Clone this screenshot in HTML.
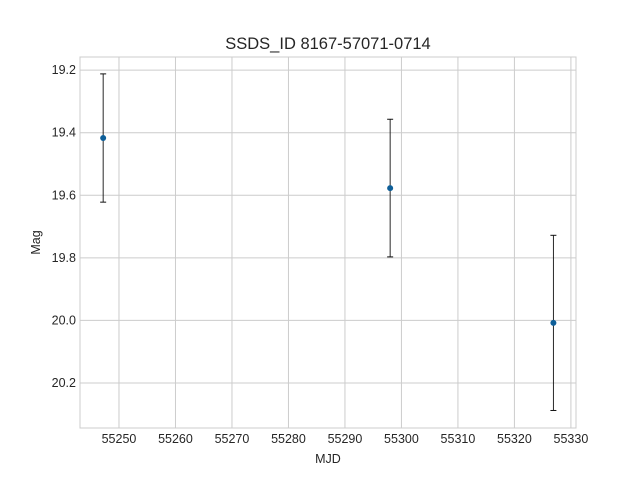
<!DOCTYPE html>
<html><head><meta charset="utf-8"><style>
body{margin:0;background:#fff;font-family:"Liberation Sans","DejaVu Sans",sans-serif;}
svg text{font-family:"Liberation Sans","DejaVu Sans",sans-serif;fill:#262626;}
</style></head><body>
<svg id="chart" width="640" height="480"></svg>
<script>
const mjd=[55247.2,55298.0,55326.9];
const mag=[19.417,19.577,20.008];
const magErr=[0.205,0.22,0.28];
const xTicks=[55250,55260,55270,55280,55290,55300,55310,55320,55330];
const yTicks=[19.2,19.4,19.6,19.8,20.0,20.2];
const L=80,R=576,T=57,B=428;
const xmin=55243.1,xmax=55330.9,ymin=19.158,ymax=20.344;
const xs=v=>L+(v-xmin)/(xmax-xmin)*(R-L);
const ys=v=>T+(v-ymin)/(ymax-ymin)*(B-T);
const svg=document.getElementById('chart');
const NS='http://www.w3.org/2000/svg';
function mk(tag,a,parent){const e=document.createElementNS(NS,tag);for(const k in a)e.setAttribute(k,a[k]);(parent||svg).appendChild(e);return e;}
const grid=mk('g',{});


xTicks.forEach(t=>{const x=xs(t);
mk('line',{x1:x,x2:x,y1:T,y2:B,stroke:'#cccccc','stroke-width':1},grid);
const lb=mk('text',{x:x,y:B+15,'text-anchor':'middle','font-size':12.5});lb.textContent=t;

});
yTicks.forEach(t=>{const y=ys(t);
mk('line',{x1:L,x2:R,y1:y,y2:y,stroke:'#cccccc','stroke-width':1},grid);
const lb=mk('text',{x:L-4,y:y+4,'text-anchor':'end','font-size':12.5});lb.textContent=t.toFixed(1);

});
const frame=mk('rect',{x:L,y:T,width:R-L,height:B-T,fill:'none',stroke:'#cccccc','stroke-width':1});


mjd.forEach((d,i)=>{const x=xs(d),y=ys(mag[i]),y1=ys(mag[i]-magErr[i]),y2=ys(mag[i]+magErr[i]);
const g=mk('g',{});


mk('line',{x1:x,x2:x,y1:y1,y2:y2,stroke:'#111','stroke-width':0.9},g);
mk('line',{x1:x-3,x2:x+3,y1:y1,y2:y1,stroke:'#111','stroke-width':1},g);
mk('line',{x1:x-3,x2:x+3,y1:y2,y2:y2,stroke:'#111','stroke-width':1},g);
mk('circle',{cx:x,cy:y,r:3,fill:'#0e5f99'},g);});
const title=mk('text',{x:(L+R)/2,y:49,'text-anchor':'middle','font-size':16.5});title.textContent='SSDS_ID 8167-57071-0714';


const xl=mk('text',{x:(L+R)/2,y:463,'text-anchor':'middle','font-size':12.5});xl.textContent='MJD';


const yl=mk('text',{x:0,y:0,'text-anchor':'middle','font-size':12.5,transform:`translate(40,${(T+B)/2}) rotate(-90)`});yl.textContent='Mag';


</script>
</body></html>
